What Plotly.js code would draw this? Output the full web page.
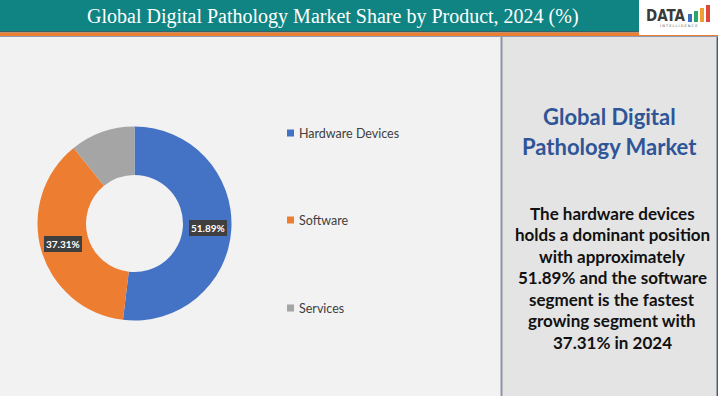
<!DOCTYPE html>
<html>
<head>
<meta charset="utf-8">
<script src="https://cdn.plot.ly/plotly-3.0.1.min.js"></script>
<style>html,body{margin:0;padding:0;background:#f2f2f2;}#chart{width:718px;height:396px;}</style>
</head>
<body>
<div id="chart"></div>
<script>
// ---- data ----
var categories = ['Hardware Devices', 'Software', 'Services'];
var shares = [51.89, 37.31, 10.80];
var sliceColors = ['#4472c4', '#ed7d31', '#a5a5a5'];
var labelShown = [true, true, false];
var chartTitle = 'Global Digital Pathology Market Share by Product, 2024 (%)';
var panelHeading = ['Global Digital', 'Pathology Market'];
var panelText = ['The hardware devices', 'holds a dominant position', 'with approximately',
  '51.89% and the software', 'segment is the fastest', 'growing segment with', '37.31% in 2024'];

// ---- layout helpers ----
var W = 718, H = 396;
function px(x) { return x / W; }
function py(y) { return 1 - y / H; }

var cx = 134.5, cy = 223.5, R = 97;
var domain = { x: [px(cx - R), px(cx + R)], y: [py(cy + R), py(cy - R)] };

var trace = {
  type: 'pie',
  labels: categories,
  values: shares,
  hole: 0.5,
  sort: false,
  direction: 'clockwise',
  rotation: 0,
  textinfo: 'none',
  marker: { colors: sliceColors, line: { width: 0 } },
  domain: domain,
  showlegend: false,
  hoverinfo: 'label+value'
};

var shapes = [
  // header band
  { type: 'rect', xref: 'paper', yref: 'paper', x0: 0, x1: 1, y0: py(31), y1: 1, fillcolor: '#108482', line: { width: 0 }, layer: 'below' },
  { type: 'rect', xref: 'paper', yref: 'paper', x0: 0, x1: 1, y0: py(32.5), y1: py(31), fillcolor: '#3a5f66', line: { width: 0 }, layer: 'below' },
  { type: 'rect', xref: 'paper', yref: 'paper', x0: 0, x1: 1, y0: py(36), y1: py(32.5), fillcolor: '#ed7d31', line: { width: 0 }, layer: 'below' },
  { type: 'rect', xref: 'paper', yref: 'paper', x0: 0, x1: 1, y0: py(37), y1: py(36), fillcolor: '#8e9bb3', line: { width: 0 }, layer: 'below' },
  // right panel
  { type: 'rect', xref: 'paper', yref: 'paper', x0: px(501), x1: 1, y0: 0, y1: py(37), fillcolor: '#e4e4e4', line: { width: 0 }, layer: 'below' },
  { type: 'line', xref: 'paper', yref: 'paper', x0: px(501.5), x1: px(501.5), y0: 0, y1: py(37), line: { color: '#8d93a3', width: 2 }, layer: 'below' },
  { type: 'line', xref: 'paper', yref: 'paper', x0: px(717.3), x1: px(717.3), y0: 0, y1: py(37), line: { color: '#4d5a78', width: 1.5 }, layer: 'below' },
  // logo box
  { type: 'rect', xref: 'paper', yref: 'paper', x0: px(639), x1: 1, y0: py(35), y1: 1, fillcolor: '#ffffff', line: { width: 0 } },
  // logo bars
  { type: 'rect', xref: 'paper', yref: 'paper', x0: px(688), x1: px(692), y0: py(22), y1: py(14), fillcolor: '#3d6fc0', line: { width: 0 } },
  { type: 'rect', xref: 'paper', yref: 'paper', x0: px(694), x1: px(698), y0: py(22), y1: py(11), fillcolor: '#2fa36b', line: { width: 0 } },
  { type: 'rect', xref: 'paper', yref: 'paper', x0: px(700), x1: px(704), y0: py(22), y1: py(8), fillcolor: '#f0a030', line: { width: 0 } },
  { type: 'rect', xref: 'paper', yref: 'paper', x0: px(706), x1: px(710), y0: py(22), y1: py(5), fillcolor: '#e0463a', line: { width: 0 } }
];

var annotations = [
  { text: chartTitle, xref: 'paper', yref: 'paper', x: px(333), y: py(16), xanchor: 'center', yanchor: 'middle', showarrow: false,
    font: { family: 'Liberation Serif, serif', size: 20, color: '#ffffff' } },
  { text: '<b>DATA</b>', xref: 'paper', yref: 'paper', x: px(644), y: py(16), xanchor: 'left', yanchor: 'middle', showarrow: false,
    font: { family: 'DejaVu Sans Condensed, DejaVu Sans, sans-serif', size: 15, color: '#3a3a3a' } },
  { text: 'I N T E L L I G E N C E', xref: 'paper', yref: 'paper', x: px(678), y: py(26), xanchor: 'center', yanchor: 'middle', showarrow: false,
    font: { family: 'DejaVu Sans, sans-serif', size: 3.5, color: '#555555' } }
];

// panel heading
panelHeading.forEach(function (t, i) {
  annotations.push({ text: '<b>' + t + '</b>', xref: 'paper', yref: 'paper', x: px(609), y: py(117 + i * 29.5), xanchor: 'center', yanchor: 'middle', showarrow: false,
    font: { family: 'Lato, sans-serif', size: 22, color: '#2f5597' } });
});
panelText.forEach(function (t, i) {
  annotations.push({ text: '<b>' + t + '</b>', xref: 'paper', yref: 'paper', x: px(612), y: py(213 + i * 21.5), xanchor: 'center', yanchor: 'middle', showarrow: false,
    font: { family: 'Lato, sans-serif', size: 17, color: '#111111' } });
});

// legend (manual, evenly spaced)
var legendY = [133, 220, 308];
categories.forEach(function (c, i) {
  shapes.push({ type: 'rect', xref: 'paper', yref: 'paper', x0: px(287), x1: px(294), y0: py(legendY[i] + 3.5), y1: py(legendY[i] - 3.5), fillcolor: sliceColors[i], line: { width: 0 } });
  annotations.push({ text: c, xref: 'paper', yref: 'paper', x: px(297), y: py(legendY[i]), xanchor: 'left', yanchor: 'middle', showarrow: false,
    font: { family: 'Lato, sans-serif', size: 12.5, color: '#404040' } });
});

// data labels derived from the values
var total = shares.reduce(function (a, b) { return a + b; }, 0);
var cum = 0;
var rLabel = 74;
shares.forEach(function (v, i) {
  var mid = (cum + v / 2) / total * 2 * Math.PI;
  cum += v;
  if (!labelShown[i]) return;
  var lx = cx + rLabel * Math.sin(mid);
  var ly = cy - rLabel * Math.cos(mid);
  annotations.push({ text: '<b>' + v.toFixed(2) + '%</b>', xref: 'paper', yref: 'paper', x: px(lx), y: py(ly), xanchor: 'center', yanchor: 'middle', showarrow: false,
    bgcolor: '#3f3f3f', borderpad: 2, borderwidth: 0,
    font: { family: 'Lato, sans-serif', size: 10, color: '#ffffff' } });
});

var layout = {
  width: W, height: H,
  margin: { l: 0, r: 0, t: 0, b: 0 },
  paper_bgcolor: '#f2f2f2',
  plot_bgcolor: '#f2f2f2',
  showlegend: false,
  shapes: shapes,
  annotations: annotations
};

Plotly.newPlot('chart', [trace], layout, { displayModeBar: false, staticPlot: true });
</script>
</body>
</html>
